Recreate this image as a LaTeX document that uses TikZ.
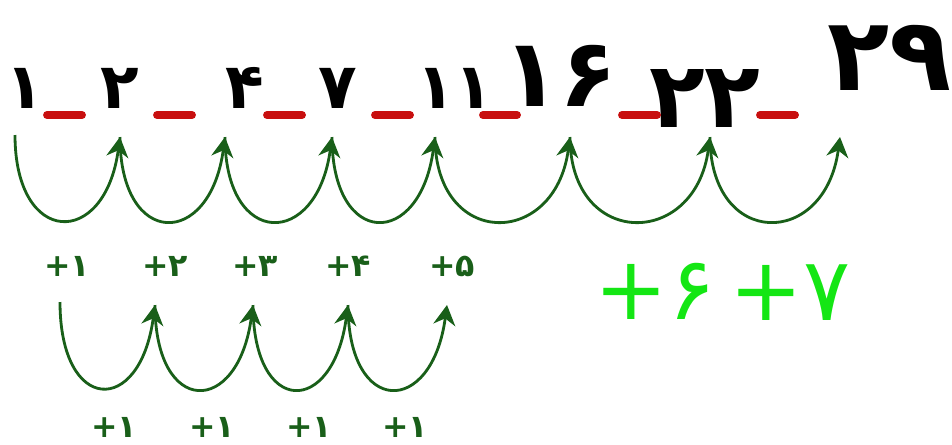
\documentclass[tikz,border=0pt]{standalone}
\usepackage{fontspec}
\newfontfamily\fadigits{DejaVu Sans}
\usetikzlibrary{arrows.meta, calc}
\definecolor{arcgreen}{RGB}{25,95,25}
\definecolor{litegreen}{RGB}{20,230,20}
\definecolor{blankred}{RGB}{200,15,15}

\begin{document}
\begin{tikzpicture}[x=0.02cm, y=0.02cm,
    num/.style={inner sep=0pt, font=\fadigits\bfseries\fontsize{36}{36}\selectfont},
    bignum/.style={inner sep=0pt, font=\fadigits\bfseries\fontsize{54}{54}\selectfont},
    blank/.style={line width=4.5pt, blankred, line cap=round},
    jump/.style={-{Stealth[length=4mm, width=4.4mm]}, line width=1.6pt, arcgreen},
    gaplbl/.style={inner sep=0pt, arcgreen, font=\fadigits\bfseries\fontsize{18}{18}\selectfont},
    biglbl/.style={inner sep=0pt, litegreen, font=\fadigits\fontsize{50}{50}\selectfont},
  ]
  \useasboundingbox (0,0) rectangle (952,-444);
  % the sequence
  \node[num] (n1) at (25,-88) {۱};
  \node[num] (n2) at (120,-88) {۲};
  \node[num] (n4) at (245,-88) {۴};
  \node[num] (n7) at (338,-88) {۷};
  \node[num] (n11) at (455,-88) {۱۱};
  \node[bignum] (n16) at (560,-76) {۱۶};
  \node[bignum, font=\fadigits\bfseries\fontsize{52}{52}\selectfont] (n22) at (705,-98) {۲۲};
  \node[bignum, font=\fadigits\bfseries\fontsize{58}{58}\selectfont] (n29) at (890,-58) {۲۹};
  % blanks
  \draw[blank] (47,-115) -- (82,-115);
  \draw[blank] (157,-115) -- (192,-115);
  \draw[blank] (267,-115) -- (302,-115);
  \draw[blank] (375,-115) -- (410,-115);
  \draw[blank] (483,-115) -- (517,-115);
  \draw[blank] (622,-115) -- (657,-115);
  \draw[blank] (760,-115) -- (795,-115);
  % jumps between the terms
  \coordinate (t1) at (15,-135);
  \coordinate (t2) at (120,-137);
  \coordinate (t3) at (225,-137);
  \coordinate (t4) at (332,-137);
  \coordinate (t5) at (435,-137);
  \coordinate (t6) at (570,-137);
  \coordinate (t7) at (710,-137);
  \coordinate (t8) at (840,-137);
  \foreach \a/\b in {t1/t2, t2/t3, t3/t4, t4/t5, t5/t6, t6/t7, t7/t8}
    \draw[jump] (\a) .. controls ($(\a)+(0,-112)$) and ($(\b)+(-15,-112)$) .. (\b);
  % differences
  \node[gaplbl] (d1) at (67,-266) {+۱};
  \node[gaplbl] (d2) at (165,-266) {+۲};
  \node[gaplbl] (d3) at (255,-266) {+۳};
  \node[gaplbl] (d4) at (348,-266) {+۴};
  \node[gaplbl] (d5) at (452,-266) {+۵};
  \node[biglbl] (d6) at (655,-291) {+۶};
  \node[biglbl] (d7) at (790,-293) {+۷};
  % jumps between the differences
  \coordinate (b1) at (60,-302);
  \coordinate (b2) at (155,-305);
  \coordinate (b3) at (253,-305);
  \coordinate (b4) at (348,-305);
  \coordinate (b5) at (447,-305);
  \foreach \a/\b in {b1/b2, b2/b3, b3/b4, b4/b5}
    \draw[jump] (\a) .. controls ($(\a)+(0,-112)$) and ($(\b)+(-15,-112)$) .. (\b);
  \node[gaplbl] (e1) at (114,-427) {+۱};
  \node[gaplbl] (e2) at (212,-427) {+۱};
  \node[gaplbl] (e3) at (309,-427) {+۱};
  \node[gaplbl] (e4) at (405,-427) {+۱};
\end{tikzpicture}
\end{document}
